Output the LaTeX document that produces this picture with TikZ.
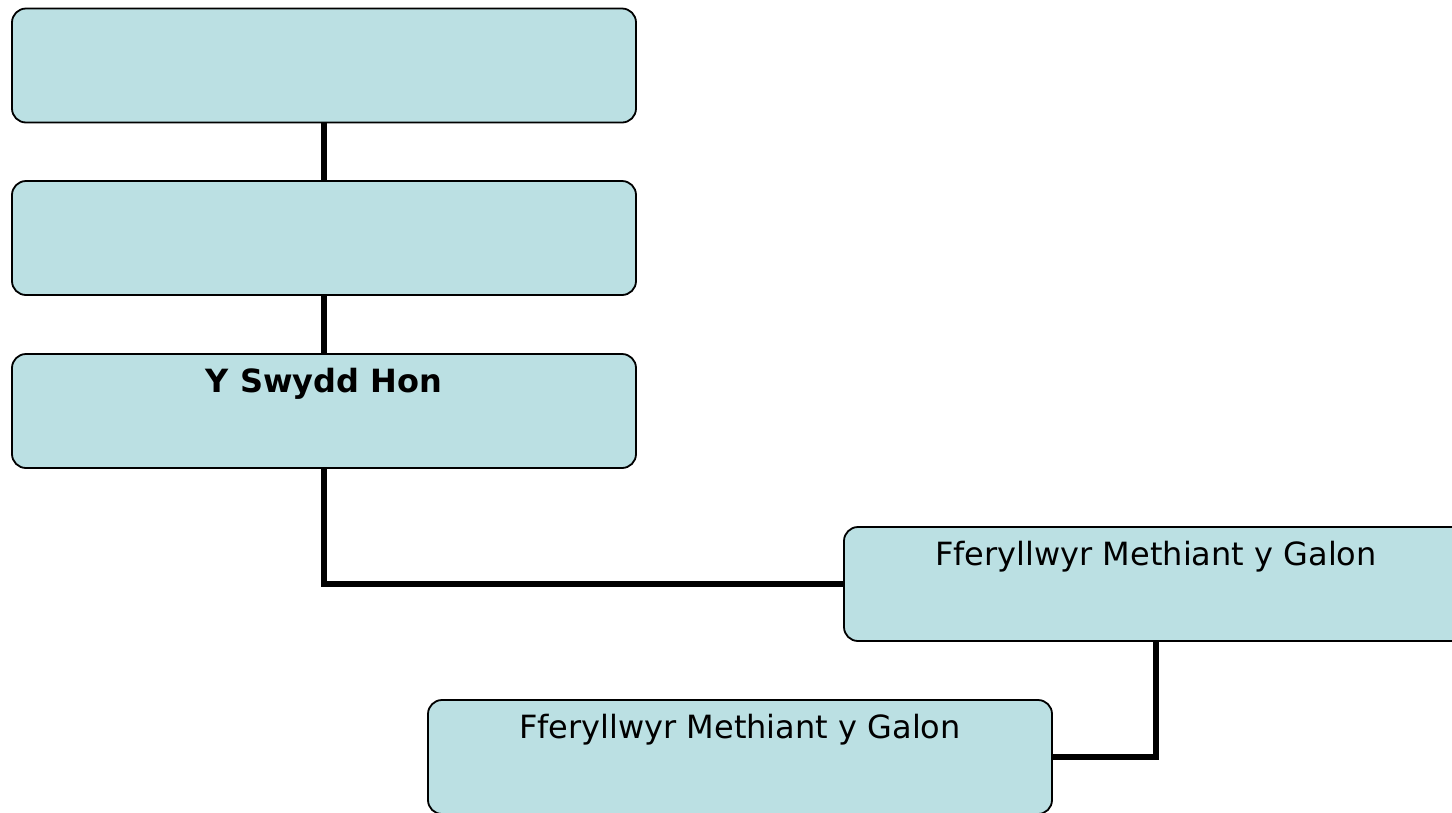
\documentclass[tikz,border=0pt]{standalone}
\usepackage{fontspec}
\setmainfont{DejaVu Sans}
\definecolor{boxfill}{HTML}{BBE0E3}
\begin{document}
\begin{tikzpicture}[x=1pt,y=-1pt,
  orgbox/.style={draw=black, line width=1.8pt, fill=boxfill, rounded corners=14pt,
    minimum width=624pt, minimum height=114pt, inner sep=0pt,
    text height=38pt, text depth=76pt, font=\fontsize{32}{38}\selectfont},
  link/.style={line width=5.5pt}]
\clip (0,0) rectangle (1452,812);
\useasboundingbox (0,0) rectangle (1452,812);
\node[orgbox] (b1) at (324,65.5) {};
\node[orgbox] (b2) at (324,238) {};
\node[orgbox] (b3) at (324,411) {\bfseries Y Swydd Hon};
\node[orgbox] (b4) at (1156,584) {Fferyllwyr Methiant y Galon};
\node[orgbox] (b5) at (740,757) {Fferyllwyr Methiant y Galon};
\draw[link] (b1.south) -- (b2.north);
\draw[link] (b2.south) -- (b3.north);
\draw[link] (b3.south) |- (b4.west);
\draw[link] (b4.south) |- (b5.east);
\end{tikzpicture}
\end{document}
